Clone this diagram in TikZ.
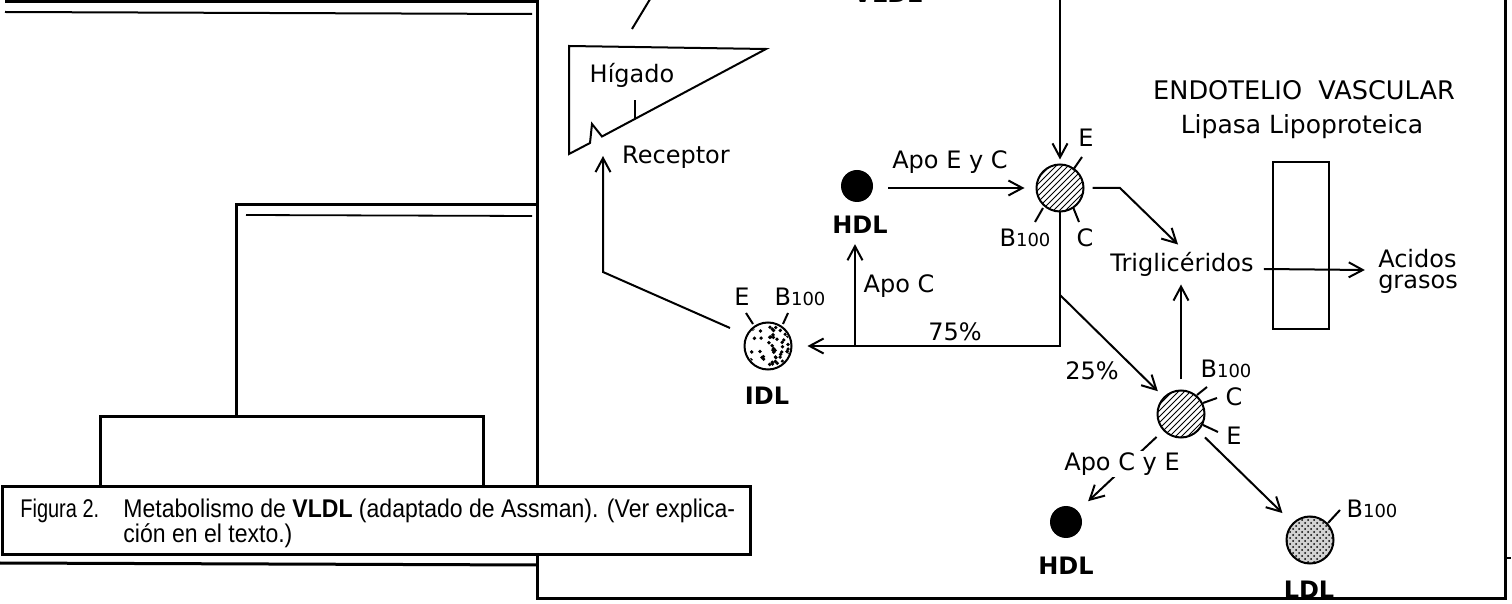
\documentclass[tikz,border=0pt]{standalone}
\usepackage{fontspec}
\setmainfont{DejaVu Sans}
\newfontfamily\capfont{Liberation Sans}
\usetikzlibrary{patterns,arrows.meta,calc}
\newcommand\Bcien{B{\fontsize{9}{9}\selectfont 100}}
\begin{document}
\begin{tikzpicture}[x=0.5pt,y=-0.5pt,
  frame/.style={line width=1.5pt},
  conn/.style={line width=1pt},
  arr/.style={line width=1pt,-{Straight Barb[length=7pt,width=7.5pt]}},
  lab/.style={font=\fontsize{12}{12}\selectfont, inner sep=0pt},
  blab/.style={font=\fontsize{12}{12}\selectfont\bfseries, inner sep=0pt},
  capt/.style={font=\capfont\fontsize{12.8}{13}\selectfont, inner sep=0pt},
  particle/.style={circle, draw, line width=1pt, minimum size=23.5pt, inner sep=0pt},
  hdl/.style={circle, fill=black, minimum size=16pt, inner sep=0pt}]
\useasboundingbox (0,0) rectangle (1512,604);
\clip (0,0) rectangle (1512,604);

% ---------- frames of the page ----------
\draw[frame] (5,2) -- (537,2) -- (537,598) -- (1505,598) -- (1505,-5);
\draw[line width=1pt] (5,12) -- (532,14);
\draw[frame] (537,205) -- (236,205) -- (236,417);
\draw[line width=0.9pt] (246,215) -- (532,216);
\draw[frame] (100,487) -- (100,417) -- (483,417) -- (483,487);
\draw[frame] (0,563) -- (537,565);
\draw[line width=1pt] (1505,558) -- (1511,558);
\draw[frame, fill=white] (2,487) rectangle (750,555);
\node[capt, anchor=base west] (fig) at (20,517) {\scalebox{0.78}[1]{Figura 2.}};
\node[capt, anchor=base west] (cap1) at (123,517) {\scalebox{0.9}[1]{Metabolismo de \textbf{VLDL} (adaptado de Assman). (Ver explica-}};
\node[capt, anchor=base west] (cap2) at (123,543) {\scalebox{0.9}[1]{ción en el texto.)}};

% ---------- liver ----------
\draw[conn] (569,154) -- (569,46) -- (766,49) -- (602,136.5) -- (592,124) -- (590,143) -- cycle;
\draw[conn] (635,118.5) -- (635,100);
\node[lab] (higado) at (632,75) {Hígado};
\node[lab] (receptor) at (676,157) {Receptor};
\coordinate (recpt) at (603,156);
\coordinate (topa) at (632,29);
\coordinate (topb) at (658,-14);
\draw[conn] (topa) -- (topb);
\node[blab, anchor=base] (vldltop) at (888,3) {VLDL};

% ---------- particles ----------
\node[particle, pattern=north east lines] (vldl) at (1060,188) {};
\node[particle] (idl) at (768,346) {};
\begin{scope}
  \clip (768,346) circle (22);
  \pgfmathsetseed{11}
  \foreach \i in {1,...,48}{
    \pgfmathsetmacro\dx{rand*22}
    \pgfmathsetmacro\dy{rand*22}
    \fill (768+\dx,346+\dy) circle (1.9);
  }
\end{scope}
\node[particle, pattern=north east lines] (rem) at (1181,414) {};
\node[particle, preaction={fill=gray!35}, pattern=crosshatch dots] (ldl) at (1310,540) {};
\node[hdl] (hdla) at (857,186) {};
\node[hdl] (hdlb) at (1066,522) {};

% spikes
\draw[conn] ($(vldl)+(13,-18)$) -- ($(vldl)+(22,-31)$);
\draw[conn] ($(vldl)+(-17,20)$) -- ($(vldl)+(-25,34)$);
\draw[conn] ($(vldl)+(13,19)$) -- ($(vldl)+(19,34)$);
\draw[conn] ($(idl)+(-15,-22)$) -- ($(idl)+(-22,-33)$);
\draw[conn] ($(idl)+(15,-22)$) -- ($(idl)+(20,-33)$);
\draw[conn] ($(rem)+(16,-19)$) -- ($(rem)+(26,-27)$);
\draw[conn] ($(rem)+(22,-11)$) -- ($(rem)+(36,-16)$);
\draw[conn] ($(rem)+(22,11)$) -- ($(rem)+(37,18)$);
\draw[conn] ($(ldl)+(18,-17)$) -- ($(ldl)+(30,-30)$);

% particle labels
\node[blab] (hdlalab) at (860,225) {HDL};
\node[blab] (idllab) at (767,396) {IDL};
\node[blab] (hdlblab) at (1066,566) {HDL};
\node[blab] (ldllab) at (1309,590) {LDL};
\node[lab] (ve) at (1086,138) {E};
\node[lab] (vb) at (1025,238) {\Bcien};
\node[lab] (vc) at (1085,238) {C};
\node[lab] (ie) at (742,297) {E};
\node[lab] (ib) at (800,297) {\Bcien};
\node[lab] (rb) at (1226,369) {\Bcien};
\node[lab] (rc) at (1234,397) {C};
\node[lab] (re) at (1234,436) {E};
\node[lab] (lb) at (1372,509) {\Bcien};

% other texts
\node[lab] (apoeyc) at (950,162) {Apo E y C};
\node[lab] (apoc) at (899,286) {Apo C};
\node[lab] (p75) at (955,332) {75\%};
\node[lab] (p25) at (1092,371) {25\%};
\node[lab, font=\fontsize{12.8}{12}\selectfont] (endot) at (1304,90) {ENDOTELIO\ \ VASCULAR};
\node[lab, font=\fontsize{12.5}{12}\selectfont] (lipasa) at (1302,127) {Lipasa Lipoproteica};
\node[lab] (trig) at (1182,264) {Triglicéridos};
\node[lab, align=left, font=\fontsize{12}{10.5}\selectfont] (acid) at (1418,271) {Acidos\\grasos};
\node[draw, line width=1pt, minimum width=28pt, minimum height=83.5pt, inner sep=0pt] (endo) at (1301,245.5) {};

% ---------- connectors ----------
\coordinate (vin) at (1060,-10);
\draw[arr, shorten >=2pt] (vin) -- (vldl);
\draw[arr, shorten <=7.5pt, shorten >=5.5pt] (hdla.east |- vldl) -- (vldl);
\coordinate (vbend) at (1120,188);
\draw[arr] ($(vldl.east)+(8,0)$) -- (vbend) -- ($(trig.north)+(-4,-7)$);
\coordinate (j2) at (1060,295);
\draw[arr] (vldl.south) |- ($(idl.east)+(15,0)$);
\coordinate (j1) at (855,346);
\draw[arr, shorten >=5pt] (j1) -- (j1 |- hdlalab.south);
\draw[arr, shorten >=4pt] (j2) -- (rem);
\draw[arr, shorten <=5pt, shorten >=4pt] (rem.north) -- (rem.north |- trig.south);
\draw[arr] ($(trig.east)+(10,5)$) -- ($(acid.west)+(-13,-1)$);
\draw[arr, shorten <=4.5pt, shorten >=7pt] (rem) -- (hdlb);
\draw[arr, shorten <=4.5pt, shorten >=7pt] (rem) -- (ldl);
\coordinate (ibend) at (603,272);
\draw[arr] ($(idl)+(-38,-18)$) -- (ibend) -- (recpt);
\node[lab, fill=white, inner sep=1pt] (apocye) at (1122,464) {Apo C y E};
\end{tikzpicture}
\end{document}
